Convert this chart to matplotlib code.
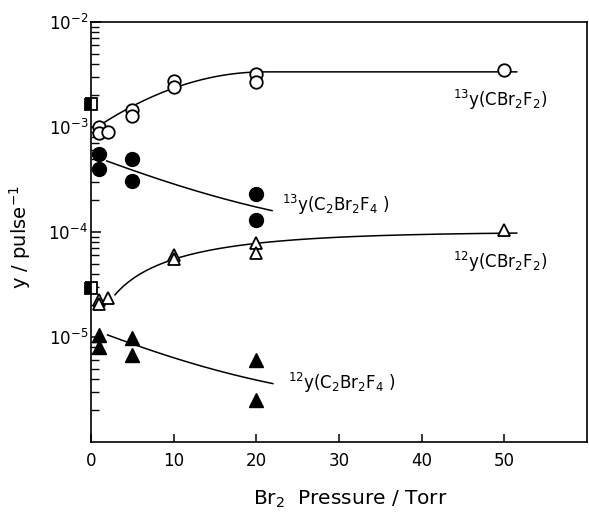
import numpy as np
import matplotlib
matplotlib.use('Agg')
import matplotlib.pyplot as plt
from matplotlib.ticker import LogLocator, NullFormatter, FixedLocator, FixedFormatter

# ---------------- data ----------------
p_13cbr = [1, 1, 2, 5, 5, 10, 10, 20, 20, 50]
y_13cbr = [1.0e-3, 8.8e-4, 8.9e-4, 1.45e-3, 1.27e-3, 2.74e-3, 2.4e-3, 3.2e-3, 2.68e-3, 3.49e-3]

p_13c2 = [1, 1, 5, 5, 20, 20]
y_13c2 = [5.5e-4, 4.0e-4, 5.0e-4, 3.05e-4, 2.3e-4, 1.3e-4]

p_12cbr = [1, 1, 2, 10, 10, 20, 20, 50]
y_12cbr = [2.25e-5, 2.06e-5, 2.35e-5, 6.0e-5, 5.5e-5, 7.85e-5, 6.3e-5, 1.05e-4]

p_12c2 = [1, 1, 5, 5, 20, 20]
y_12c2 = [1.04e-5, 8.0e-6, 9.8e-6, 6.7e-6, 6.0e-6, 2.5e-6]

p_zero = [0, 0]
y_zero = [1.65e-3, 2.93e-5]

xtick_vals = [0, 10, 20, 30, 40, 50]
ytick_vals = [1e-5, 1e-4, 1e-3, 1e-2]
ytick_labels = [r'$10^{-5}$', r'$10^{-4}$', r'$10^{-3}$', r'$10^{-2}$']

# fitted-curve parameters
c13cbr_inf, c13cbr_a, c13cbr_x0, c13cbr_range = 3.35e-3, 0.00128, 21.0, (1.3, 51.5)
c13c2_b, c13c2_a, c13c2_tau, c13c2_range = 0.8e-4, 4.6e-4, 12.5, (1.9, 21.9)
c12cbr_inf, c12cbr_a, c12cbr_tau, c12cbr_range = 1.0e-4, 9.2e-5, 14.0, (2.9, 51.5)
c12c2_b, c12c2_a, c12c2_tau, c12c2_range = 2.0e-6, 1.0e-5, 12.0, (2.0, 22.0)

# ---------------- figure ----------------
plt.rcParams['font.family'] = ['DejaVu Sans']
plt.rcParams['mathtext.fontset'] = 'dejavusans'

fig = plt.figure(figsize=(5.89, 5.12), dpi=100)
ax = fig.add_axes([91/589, 1-442/512, (587-91)/589, (442-22)/512])
ax.set_yscale('log')
ax.set_xlim(0, 60)
ax.set_ylim(1e-6, 1e-2)

lw = 1.1
# curves
x = np.linspace(*c13cbr_range, 300)
ly = np.log10(c13cbr_inf) - c13cbr_a * np.clip(c13cbr_x0 - x, 0, None) ** 2
ax.plot(x, 10 ** ly, color='black', lw=lw, zorder=2)

x = np.linspace(*c13c2_range, 300)
ax.plot(x, c13c2_b + c13c2_a * np.exp(-x / c13c2_tau), color='black', lw=lw, zorder=2)

x = np.linspace(*c12cbr_range, 300)
ax.plot(x, c12cbr_inf - c12cbr_a * np.exp(-x / c12cbr_tau), color='black', lw=lw, zorder=2)

x = np.linspace(*c12c2_range, 300)
ax.plot(x, c12c2_b + c12c2_a * np.exp(-x / c12c2_tau), color='black', lw=lw, zorder=2)

# markers
ax.plot(p_13cbr, y_13cbr, 'o', ms=9, mfc='white', mec='black', mew=1.3, zorder=3, clip_on=False)
ax.plot(p_13c2, y_13c2, 'o', ms=10, mfc='black', mec='black', zorder=3, clip_on=False)
ax.plot(p_12cbr, y_12cbr, '^', ms=9, mfc='white', mec='black', mew=1.3, zorder=3, clip_on=False)
ax.plot(p_12c2, y_12c2, '^', ms=10, mfc='black', mec='black', zorder=3, clip_on=False)
ax.plot(p_zero, y_zero, 's', ms=8, fillstyle='left', mfc='black', mfcalt='white',
        mec='black', mew=1.3, zorder=4, clip_on=False)

# labels of series
fs = 12
ax.text(49.5, 1.8e-3, r'$^{13}$y(CBr$_2$F$_2$)', ha='center', va='center', fontsize=fs)
ax.text(23.1, 1.8e-4, r'$^{13}$y(C$_2$Br$_2$F$_4$ )', ha='left', va='center', fontsize=fs)
ax.text(49.5, 5.2e-5, r'$^{12}$y(CBr$_2$F$_2$)', ha='center', va='center', fontsize=fs)
ax.text(23.8, 3.65e-6, r'$^{12}$y(C$_2$Br$_2$F$_4$ )', ha='left', va='center', fontsize=fs)

# ticks
ax.xaxis.set_major_locator(FixedLocator(xtick_vals))
ax.set_xticklabels([str(v) for v in xtick_vals])
ax.yaxis.set_major_locator(FixedLocator(ytick_vals))
ax.yaxis.set_major_formatter(FixedFormatter(ytick_labels))
ax.yaxis.set_minor_locator(LogLocator(base=10, subs=np.arange(2, 10), numticks=20))
ax.yaxis.set_minor_formatter(NullFormatter())
ax.tick_params(which='both', direction='in', top=False, right=False, labelsize=12)
ax.tick_params(axis='y', which='major', length=7, width=1.1, pad=2)
ax.tick_params(axis='y', which='minor', length=6, width=1.0)
ax.tick_params(axis='x', which='major', length=6, width=1.1, pad=7)
for s in ax.spines.values():
    s.set_linewidth(1.2)

ax.set_xlabel(r'Br$_2$  Pressure / Torr', fontsize=14.5)
ax.xaxis.set_label_coords(0.522, -0.112)
ax.set_ylabel(r'y / pulse$^{-1}$', fontsize=14)
ax.yaxis.set_label_coords(-0.117, 0.488)

fig.savefig('out.png', dpi=100)
